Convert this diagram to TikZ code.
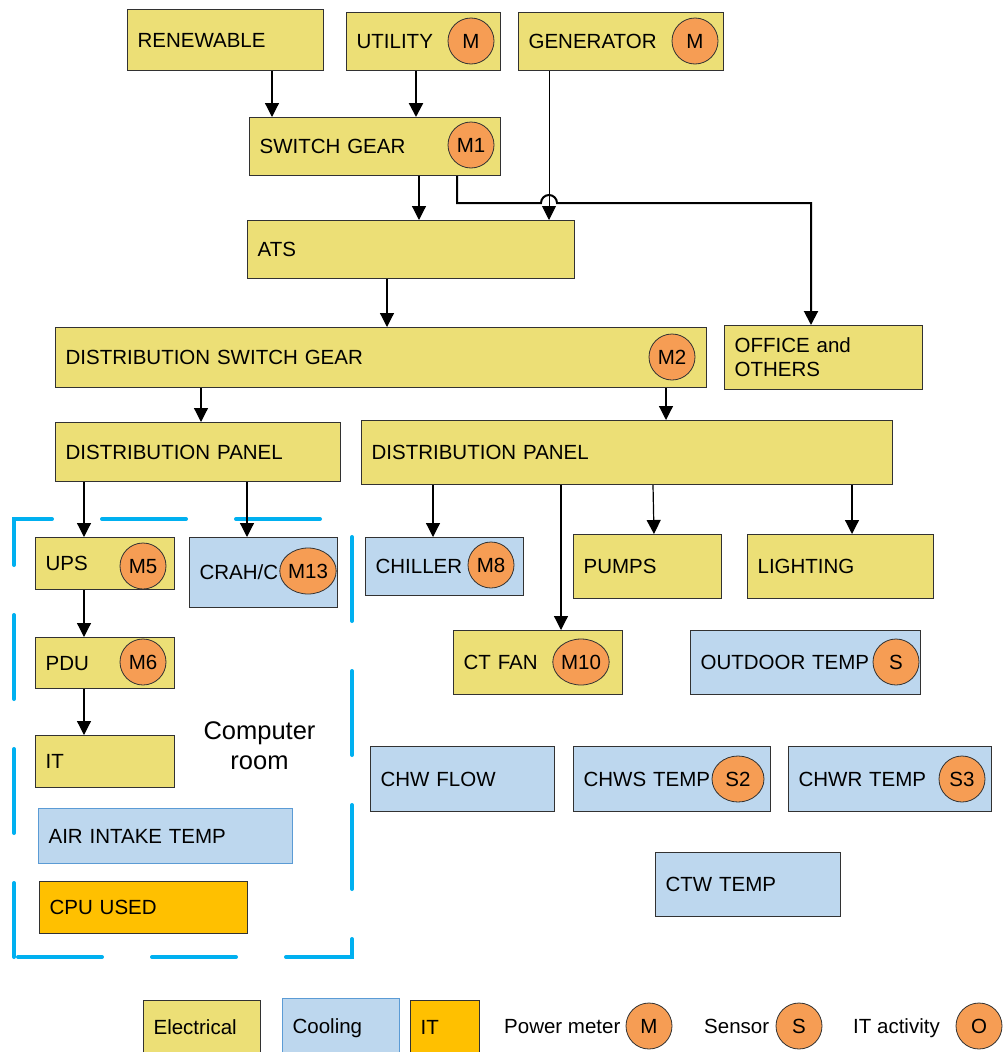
\documentclass[tikz,border=0pt]{standalone}
\usepackage{fontspec}
\setmainfont{Liberation Sans}
\usetikzlibrary{arrows.meta,shapes.geometric}

\definecolor{elecfill}{RGB}{236,223,118}
\definecolor{coolfill}{RGB}{189,215,238}
\definecolor{coolline}{RGB}{91,155,213}
\definecolor{itfill}{RGB}{255,192,0}
\definecolor{meterfill}{RGB}{246,157,84}
\definecolor{roomline}{RGB}{0,176,240}
\definecolor{edgeline}{RGB}{50,50,50}

\begin{document}
\begin{tikzpicture}[x=1pt,y=-1pt,
  lbl/.style={font=\fontsize{20.5}{24}\selectfont, text height=14.7pt, text depth=0pt},
  size/.code 2 args={\pgfmathsetmacro\boxtw{#1-20}%
    \tikzset{minimum width=#1pt, minimum height=#2pt, text width/.expanded=\boxtw pt}},
  unit/.style={lbl, draw=edgeline, line width=1.2pt, anchor=north west,
    inner xsep=10pt, inner ysep=0pt, align=left},
  elec/.style={unit, fill=elecfill},
  cool/.style={unit, fill=coolfill},
  itbox/.style={unit, fill=itfill},
  meter/.style={lbl, shape=ellipse, draw=edgeline, line width=0.8pt, fill=meterfill,
    minimum width=46pt, minimum height=46pt, inner sep=0pt},
  wide/.style={minimum width=52pt},
  conn/.style={draw=black, line width=1.2pt, -{Triangle[length=14pt,width=14pt]}},
  roomframe/.style={draw=roomline, line width=4pt, line cap=round,
    dash pattern=on 84pt off 50pt, dash phase=10pt},
  legendtext/.style={lbl, anchor=west, inner sep=0pt}
]
\useasboundingbox (0,0) rectangle (1006,1052);
\clip (0,0) rectangle (1006,1052);

% supply side
\node[elec, size={196}{61}] (ren) at (127,9) {RENEWABLE};
\node[elec, size={154}{58}] (util) at (346,12) {UTILITY};
\node[elec, size={205}{58}] (gen) at (518,12) {GENERATOR};
\node[elec, size={251}{58}] (swg) at (249,117) {SWITCH GEAR};
\node[elec, size={327}{58}] (ats) at (247,220) {ATS};
\node[elec, size={651}{60}] (dsg) at (55,327) {DISTRIBUTION SWITCH GEAR};
\node[elec, size={198}{64}, text depth=24pt] (office) at (724,325) {OFFICE and\\OTHERS};
\node[elec, size={285}{59}] (dpl) at (55,422) {DISTRIBUTION PANEL};
\node[elec, size={531}{64}] (dpr) at (361,420) {DISTRIBUTION PANEL};

% computer room
\node[elec, size={139}{52}] (ups) at (35,537) {UPS};
\node[cool, size={148}{70}] (crah) at (189,537) {CRAH/C};
\node[elec, size={139}{51}] (pdu) at (35,637) {PDU};
\node[elec, size={139}{52}] (it) at (35,735) {IT};
\node[cool, draw=coolline, size={254}{55}] (air) at (38,808) {AIR INTAKE TEMP};
\node[itbox, size={208}{52}] (cpu) at (39,881) {CPU USED};
\node[font=\fontsize{25.5}{30}\selectfont, align=center, text height=48.3pt,
  text depth=0pt, inner sep=0pt] (room) at (259.5,745.5) {Computer\\room};
\draw[roomframe] (14,957) -- (14,519) -- (352,519) -- (352,957) -- cycle;

% plant loads and sensors
\node[cool, size={158}{58}] (chiller) at (365,537) {CHILLER};
\node[elec, size={148}{64}] (pumps) at (573,534) {PUMPS};
\node[elec, size={186}{64}] (lighting) at (747,534) {LIGHTING};
\node[elec, size={169}{64}] (ctfan) at (453,630) {CT FAN};
\node[cool, size={230}{64}] (outdoor) at (690,630) {OUTDOOR TEMP};
\node[cool, size={184}{65}] (chwflow) at (370,746) {CHW FLOW};
\node[cool, size={197}{65}] (chws) at (573,746) {CHWS TEMP};
\node[cool, size={203}{65}] (chwr) at (788,746) {CHWR TEMP};
\node[cool, size={185}{64}] (ctw) at (655,852) {CTW TEMP};

% meters and sensors
\node[meter] (mutil) at (471,41) {M};
\node[meter] (mgen) at (695,41) {M};
\node[meter] (m1) at (471,145) {M1};
\node[meter] (m2) at (672,357) {M2};
\node[meter] (m5) at (143,566) {M5};
\node[meter, wide] (m13) at (308,571) {M13};
\node[meter] (m6) at (143,662) {M6};
\node[meter] (m8) at (491,565) {M8};
\node[meter, wide] (m10) at (581,662) {M10};
\node[meter] (sout) at (896,662) {S};
\node[meter, wide] (s2) at (738,779) {S2};
\node[meter] (s3) at (962,779) {S3};

% connections
\draw[conn] (272,0 |- ren.south) -- (272,0 |- swg.north);
\draw[conn, line width=2.4pt] (416,0 |- util.south) -- (416,0 |- swg.north);
\draw[conn] (419,0 |- swg.south) -- (419,0 |- ats.north);
\draw[conn, line width=0.9pt] (549,0 |- gen.south) -- (549,0 |- ats.north);
\coordinate (feedturn) at (457,203);
\coordinate (hopin) at (541,203);
\coordinate (feedcorner) at (811,203);
\draw[conn, line width=2pt] (457,0 |- swg.south) -- (feedturn) -- (hopin)
  arc[start angle=180, end angle=0, radius=8pt] -- (feedcorner)
  -- (811,0 |- office.north);
\draw[conn] (387,0 |- ats.south) -- (387,0 |- dsg.north);
\draw[conn] (201,0 |- dsg.south) -- (201,0 |- dpl.north);
\draw[conn] (666,0 |- dsg.south) -- (666,0 |- dpr.north);
\draw[conn] (84,0 |- dpl.south) -- (84,0 |- ups.north);
\draw[conn] (247,0 |- dpl.south) -- (247,0 |- crah.north);
\draw[conn] (84,0 |- ups.south) -- (84,0 |- pdu.north);
\draw[conn] (84,0 |- pdu.south) -- (84,0 |- it.north);
\draw[conn] (433,0 |- dpr.south) -- (433,0 |- chiller.north);
\draw[conn] (561,0 |- dpr.south) -- (561,0 |- ctfan.north);
\draw[conn] (653,0 |- dpr.south) -- (654,0 |- pumps.north);
\draw[conn] (852,0 |- dpr.south) -- (852,0 |- lighting.north);

% legend
\node[elec, size={117}{53}] (lgelec) at (143,1000) {Electrical};
\node[cool, draw=coolline, size={117}{55}] (lgcool) at (282,998) {Cooling};
\node[itbox, size={69}{53}] (lgit) at (410,1000) {IT};
\node[legendtext] (lgpm) at (504,1026) {Power meter};
\node[meter] (lgm) at (649,1026) {M};
\node[legendtext] (lgsens) at (704,1026) {Sensor};
\node[meter] (lgs) at (799,1026) {S};
\node[legendtext] (lgita) at (853,1026) {IT activity};
\node[meter] (lgo) at (979,1026) {O};
\end{tikzpicture}
\end{document}
